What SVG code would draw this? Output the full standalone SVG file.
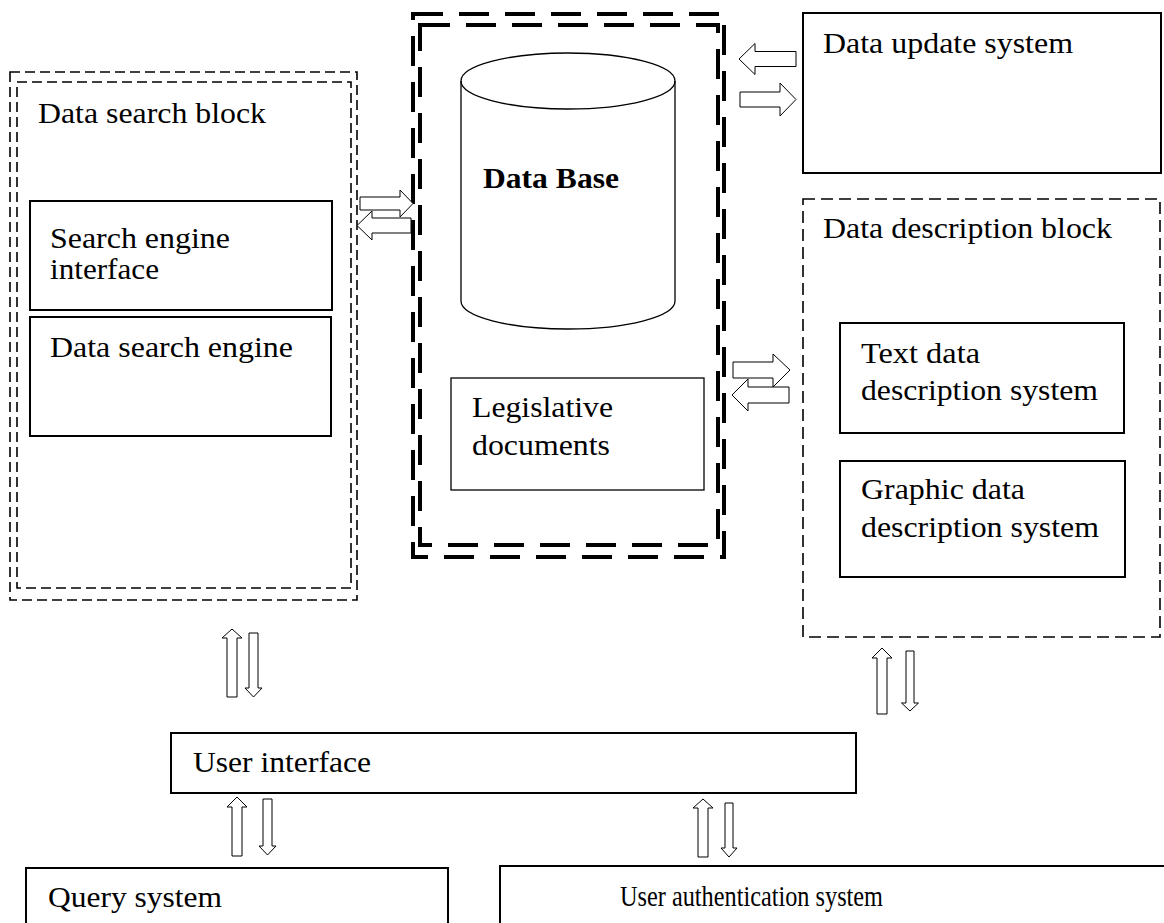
<svg xmlns="http://www.w3.org/2000/svg" width="1164" height="923" viewBox="0 0 1164 923">
<style>
text{font-family:"Liberation Serif","Times New Roman",serif;font-size:29px;fill:#000}
.box{fill:none;stroke:#000;stroke-width:2}
.thin{fill:none;stroke:#000;stroke-width:1.3}
.dash{fill:none;stroke:#000;stroke-width:1.6;stroke-dasharray:10 5}
.dash2{fill:none;stroke:#000;stroke-width:1.6;stroke-dasharray:12 6}
.thick{fill:none;stroke:#000;stroke-width:4;stroke-dasharray:30 16}
.arr{fill:#fff;stroke:#000;stroke-width:1;stroke-linejoin:miter}
</style>
<rect width="1164" height="923" fill="#fff"/>

<g id="data-search-block">
<rect class="dash" x="10" y="72" width="347" height="528"/>
<rect class="dash" x="17" y="82" width="334" height="506"/>
<text x="38" y="123" textLength="228" lengthAdjust="spacingAndGlyphs">Data search block</text>
</g>
<g id="search-engine-interface">
<rect class="box" x="30" y="201" width="302" height="109"/>
<text x="50" y="248" font-size="27" textLength="180" lengthAdjust="spacingAndGlyphs">Search engine</text>
<text x="50" y="279" font-size="27" textLength="109" lengthAdjust="spacingAndGlyphs">interface</text>
</g>
<g id="data-search-engine">
<rect class="box" x="30" y="317" width="301" height="119"/>
<text x="50" y="357" textLength="243" lengthAdjust="spacingAndGlyphs">Data search engine</text>
</g>

<g id="database-block">
<rect class="thick" x="413" y="14" width="311" height="543"/>
<rect class="thick" x="420" y="25" width="298" height="520"/>
</g>
<g id="data-base">
<path class="thin" d="M461,81 L461,301 A107,28 0 0 0 675,301 L675,81"/>
<ellipse class="thin" cx="568" cy="81" rx="107" ry="28" fill="#fff"/>
<text x="483" y="188" font-weight="bold" textLength="136" lengthAdjust="spacingAndGlyphs">Data Base</text>
</g>
<g id="legislative-documents">
<rect class="thin" x="451" y="378" width="253" height="112"/>
<text x="472" y="417" textLength="141" lengthAdjust="spacingAndGlyphs">Legislative</text>
<text x="472" y="455" textLength="138" lengthAdjust="spacingAndGlyphs">documents</text>
</g>

<g id="data-update-system">
<rect class="box" x="803" y="13" width="358" height="160"/>
<text x="823" y="53" textLength="250" lengthAdjust="spacingAndGlyphs">Data update system</text>
</g>

<g id="data-description-block">
<rect class="dash2" x="803" y="199" width="357" height="438"/>
<text x="823" y="238" textLength="289" lengthAdjust="spacingAndGlyphs">Data description block</text>
</g>
<g id="text-data-description">
<rect class="box" x="840" y="323" width="284" height="110"/>
<text x="861" y="363" textLength="119" lengthAdjust="spacingAndGlyphs">Text data</text>
<text x="861" y="400" textLength="237" lengthAdjust="spacingAndGlyphs">description system</text>
</g>
<g id="graphic-data-description">
<rect class="box" x="840" y="461" width="285" height="116"/>
<text x="861" y="499" textLength="164" lengthAdjust="spacingAndGlyphs">Graphic data</text>
<text x="861" y="537" textLength="238" lengthAdjust="spacingAndGlyphs">description system</text>
</g>

<g id="user-interface">
<rect class="box" x="171" y="733" width="685" height="60"/>
<text x="193" y="772" textLength="178" lengthAdjust="spacingAndGlyphs">User interface</text>
</g>
<g id="query-system">
<rect class="box" x="26" y="868" width="422" height="70"/>
<text x="48" y="907" textLength="174" lengthAdjust="spacingAndGlyphs">Query system</text>
</g>
<g id="user-authentication-system">
<rect class="box" x="500" y="866" width="680" height="70"/>
<text x="620" y="906" textLength="263" lengthAdjust="spacingAndGlyphs">User authentication system</text>
</g>

<g id="connectors">
<polygon class="arr" points="796,51.5 755,51.5 755,43.5 739,59 755,74.5 755,66.5 796,66.5"/>
<polygon class="arr" points="740,92 780,92 780,83 796,99.5 780,116 780,107 740,107"/>
<polygon class="arr" points="360,197 400,197 400,190 413,203.5 400,217 400,210 360,210"/>
<polygon class="arr" points="411,218 372,218 372,211 357,225.5 372,240 372,233 411,233"/>
<polygon class="arr" points="733,362 773,362 773,354 790,370 773,387 773,378 733,378"/>
<polygon class="arr" points="789,387 748,387 748,379 732,395 748,411 748,403 789,403"/>
<polygon class="arr" points="877,714 877,658 872,658 882,648 892,658 887,658 887,714"/>
<polygon class="arr" points="906,651 914,651 914,703 918.5,703 910,711 901.5,703 906,703"/>
<polygon class="arr" points="227,697 227,638 222,638 232,629 242,638 237,638 237,697"/>
<polygon class="arr" points="249,633 258,633 258,688 262,688 253.5,697 245,688 249,688"/>
<polygon class="arr" points="232,856 232,807 227,807 237,797 247,807 242,807 242,856"/>
<polygon class="arr" points="263,799 272,799 272,846 276,846 267.5,855 259,846 263,846"/>
<polygon class="arr" points="698,857 698,808 693,808 703,799 713,808 708,808 708,857"/>
<polygon class="arr" points="725,803 733,803 733,848 737,848 729,857 721,848 725,848"/>
</g>
</svg>
